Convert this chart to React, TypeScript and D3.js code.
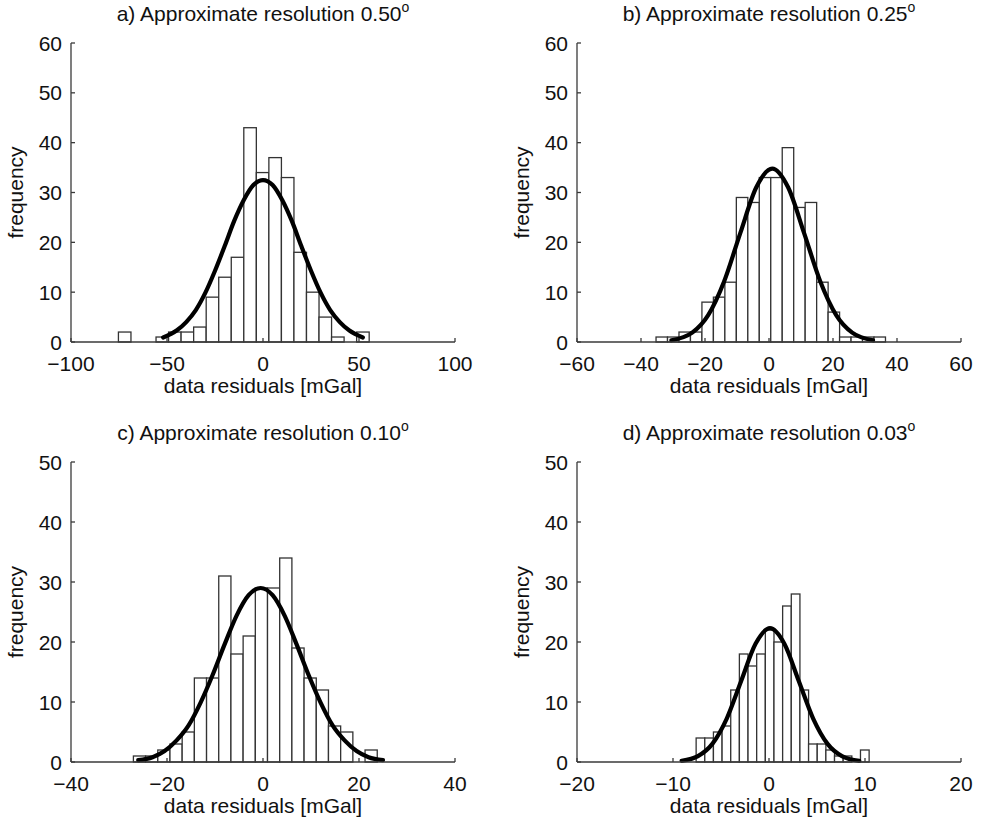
import React from "react";
import * as d3 from "d3";

// ---- data ----
const titles = [
  "a) Approximate resolution 0.50",
  "b) Approximate resolution 0.25",
  "c) Approximate resolution 0.10",
  "d) Approximate resolution 0.03",
];

const countsA = [2, 0, 0, 1, 2, 2, 3, 9, 13, 17, 43, 34, 37, 33, 18, 10, 5, 1, 0, 2];
const countsB = [1, 1, 2, 2, 8, 9, 12, 29, 28, 33, 33, 39, 27, 28, 12, 6, 1, 1, 1, 1];
const countsC = [1, 1, 2, 3, 5, 14, 14, 31, 18, 21, 29, 29, 34, 19, 14, 12, 6, 5, 0, 2];
const countsD = [4, 4, 5, 6, 12, 18, 16, 18, 22, 20, 26, 28, 12, 3, 3, 2, 1, 1, 0, 2];

const binStart = [-75.3, -35.3, -27.0, -7.59];
const binWidth = [6.53, 3.585, 2.54, 0.901];

const curveAx = [-52, -45, -40, -35, -30, -25, -20, -15, -10, -5, 0, 5, 10, 15, 20, 25, 30, 35, 40, 45, 52];
const curveAy = [0.9, 2.3, 4.0, 6.4, 9.9, 14.3, 19.2, 24.3, 28.5, 31.5, 32.5, 31.5, 28.5, 24.3, 19.2, 14.3, 9.9, 6.4, 4.0, 2.3, 0.9];
const curveBx = [-30.5, -24, -19, -14, -9, -4, 1, 6, 11, 16, 21, 26, 32.5];
const curveBy = [0.34, 1.88, 5.4, 12.2, 21.8, 31.0, 34.8, 31.0, 21.8, 12.2, 5.4, 1.88, 0.34];
const curveCx = [-26, -23, -20.5, -18, -15.5, -13, -10.5, -8, -5.5, -3, -0.5, 2, 4.5, 7, 9.5, 12, 14.5, 17, 19.5, 22, 25];
const curveCy = [0.32, 0.8, 1.82, 3.6, 6.1, 9.9, 14.5, 19.6, 24.4, 27.8, 29, 27.8, 24.4, 19.6, 14.5, 9.9, 6.1, 3.6, 1.82, 0.8, 0.32];
const curveDx = [-9.1, -7.4, -5.9, -4.4, -2.9, -1.4, 0.1, 1.6, 3.1, 4.6, 6.1, 7.6, 9.4];
const curveDy = [0.2, 0.98, 3.02, 7.24, 13.5, 19.7, 22.3, 19.7, 13.5, 7.24, 3.02, 0.98, 0.18];

const xDomains: [number, number][] = [[-100, 100], [-60, 60], [-40, 40], [-20, 20]];
const xTicks = [
  [-100, -50, 0, 50, 100],
  [-60, -40, -20, 0, 20, 40, 60],
  [-40, -20, 0, 20, 40],
  [-20, -10, 0, 10, 20],
];
const yMax = [60, 60, 50, 50];
const yTicks = [
  [0, 10, 20, 30, 40, 50, 60],
  [0, 10, 20, 30, 40, 50, 60],
  [0, 10, 20, 30, 40, 50],
  [0, 10, 20, 30, 40, 50],
];

const allCounts = [countsA, countsB, countsC, countsD];
const allCurveX = [curveAx, curveBx, curveCx, curveDx];
const allCurveY = [curveAy, curveBy, curveCy, curveDy];

// ---- layout ----
const W = 984;
const H = 822;
const FONT = "'Liberation Sans', Arial, Helvetica, sans-serif";
const FS = 21;
const panelBoxes = [
  { left: 71, right: 455, top: 43, bottom: 342 },
  { left: 577, right: 961, top: 43, bottom: 342 },
  { left: 71, right: 455, top: 462, bottom: 762 },
  { left: 577, right: 961, top: 462, bottom: 762 },
];

const fmt = (v: number) => (v < 0 ? "\u2212" + Math.abs(v) : String(v));

function Panel({ i }: { i: number }) {
  const box = panelBoxes[i];
  const x = d3.scaleLinear().domain(xDomains[i]).range([box.left, box.right]);
  const y = d3.scaleLinear().domain([0, yMax[i]]).range([box.bottom, box.top]);
  const counts = allCounts[i];
  const pts: [number, number][] = allCurveX[i].map((v, k) => [v, allCurveY[i][k]]);
  const line = d3
    .line<[number, number]>()
    .x((d) => x(d[0]))
    .y((d) => y(d[1]))
    .curve(d3.curveMonotoneX);
  const axisColor = "#3a3a3a";
  const cx = (box.left + box.right) / 2;
  const cy = (box.top + box.bottom) / 2;
  return (
    <g>
      {counts.map((c, k) => {
        if (c <= 0) return null;
        const x0 = x(binStart[i] + k * binWidth[i]);
        const x1 = x(binStart[i] + (k + 1) * binWidth[i]);
        return (
          <rect
            key={k}
            x={x0}
            y={y(c)}
            width={x1 - x0}
            height={y(0) - y(c)}
            fill="#fff"
            stroke="#333"
            strokeWidth={1.3}
          />
        );
      })}
      <path d={line(pts) || ""} fill="none" stroke="#000" strokeWidth={4.2} strokeLinecap="round" strokeLinejoin="round" />
      {/* axes */}
      <line x1={box.left} x2={box.right} y1={box.bottom} y2={box.bottom} stroke={axisColor} strokeWidth={1.3} />
      <line x1={box.left} x2={box.left} y1={box.top} y2={box.bottom} stroke={axisColor} strokeWidth={1.3} />
      {xTicks[i].map((t) => (
        <g key={"xt" + t}>
          <line x1={x(t)} x2={x(t)} y1={box.bottom} y2={box.bottom - 4} stroke={axisColor} strokeWidth={1.3} />
          <text x={x(t)} y={box.bottom + 29} textAnchor="middle" fontFamily={FONT} fontSize={FS} fill="#111">
            {fmt(t)}
          </text>
        </g>
      ))}
      {yTicks[i].map((t) => (
        <g key={"yt" + t}>
          <line x1={box.left} x2={box.left + 4} y1={y(t)} y2={y(t)} stroke={axisColor} strokeWidth={1.3} />
          <text x={box.left - 9} y={y(t) + 7.5} textAnchor="end" fontFamily={FONT} fontSize={FS} fill="#111">
            {fmt(t)}
          </text>
        </g>
      ))}
      <text x={cx} y={box.bottom + 51} textAnchor="middle" fontFamily={FONT} fontSize={FS} fill="#111">
        data residuals [mGal]
      </text>
      <text
        transform={`translate(${box.left - 48},${cy}) rotate(-90)`}
        textAnchor="middle"
        fontFamily={FONT}
        fontSize={FS}
        fill="#111"
      >
        frequency
      </text>
      <text x={cx} y={box.top - 22} textAnchor="middle" fontFamily={FONT} fontSize={FS} fill="#111">
        {titles[i]}
        <tspan fontSize={14} dy={-9}>o</tspan>
      </text>
    </g>
  );
}

export default function App() {
  return (
    <svg width={W} height={H} style={{ position: "absolute", left: 0, top: 0, background: "#fff" }}>
      <rect width={W} height={H} fill="#fff" />
      {[0, 1, 2, 3].map((i) => (
        <Panel key={i} i={i} />
      ))}
    </svg>
  );
}
